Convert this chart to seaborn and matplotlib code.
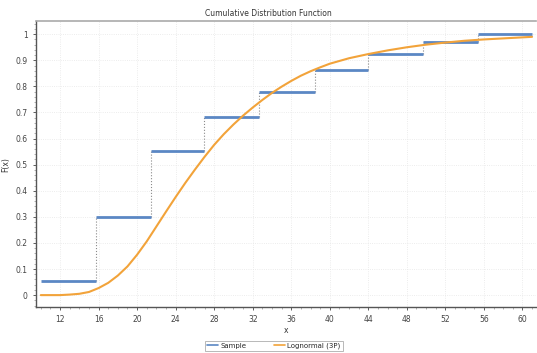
import numpy as np
import pandas as pd
import matplotlib
matplotlib.use('Agg')
import matplotlib.pyplot as plt
from matplotlib.lines import Line2D
from matplotlib.ticker import MultipleLocator
import seaborn as sns

# empirical CDF steps (bin edges and heights)
step_edges = [10.0, 15.7, 21.4, 26.95, 32.65, 38.5, 44.0, 49.65, 55.35, 61.0]
step_heights = [0.055, 0.30, 0.551, 0.681, 0.778, 0.863, 0.924, 0.971, 1.0]

# fitted Lognormal (3P) CDF
curve_x = [10, 11, 12, 13, 14, 15, 16, 17, 18, 19, 20, 21, 22, 23, 24, 25, 26,
           27, 28, 29, 30, 31, 32, 33, 34, 35, 36, 37, 38, 39, 40, 42, 44, 46,
           48, 50, 52, 54, 56, 58, 60, 61]
curve_y = [0.0, 0.0, 0.0, 0.002, 0.005, 0.012, 0.027, 0.047, 0.075, 0.11,
           0.155, 0.206, 0.263, 0.32, 0.376, 0.43, 0.481, 0.53, 0.576, 0.617,
           0.654, 0.688, 0.719, 0.748, 0.775, 0.799, 0.821, 0.841, 0.858, 0.873,
           0.887, 0.908, 0.924, 0.938, 0.95, 0.96, 0.968, 0.975, 0.98, 0.984,
           0.988, 0.99]

x_ticks = [12, 16, 20, 24, 28, 32, 36, 40, 44, 48, 52, 56, 60]
y_ticks = [0, 0.1, 0.2, 0.3, 0.4, 0.5, 0.6, 0.7, 0.8, 0.9, 1]
y_labels = ['0', '0.1', '0.2', '0.3', '0.4', '0.5', '0.6', '0.7', '0.8', '0.9', '1']

blue = '#5b87c4'
orange = '#f2a33a'

sns.set_style('white')
plt.rcParams['font.family'] = ['DejaVu Sans']

fig = plt.figure(figsize=(5.37, 3.53), dpi=100)
ax = fig.add_axes([0.067, 0.13, 0.931, 0.81])

ax.grid(True, color='#e6e6e6', linestyle=':', linewidth=0.6)

# dotted risers between steps
ax.vlines(step_edges[1:-1], step_heights[:-1], step_heights[1:],
          colors='#8a8a8a', linestyles=':', linewidth=0.8, zorder=2)
ax.hlines(step_heights, step_edges[:-1], step_edges[1:], colors=blue,
          linewidth=2.0, zorder=3)

df = pd.DataFrame({'x': curve_x, 'F': curve_y})
sns.lineplot(data=df, x='x', y='F', ax=ax, color=orange, linewidth=1.5, zorder=4)

ax.set_xlim(9.5, 61.4)
ax.set_ylim(-0.046, 1.05)
ax.set_xticks(x_ticks)
ax.set_yticks(y_ticks)
ax.set_yticklabels(y_labels)
ax.xaxis.set_minor_locator(MultipleLocator(1))
ax.yaxis.set_minor_locator(MultipleLocator(0.02))
ax.tick_params(axis='both', which='major', labelsize=5.5, colors='#444444',
               length=2.5, width=0.6, direction='out', bottom=True, left=True)
ax.tick_params(axis='both', which='minor', length=1.5, width=0.4,
               colors='#777777', bottom=True, left=True)
ax.set_xlabel('x', fontsize=5.5, color='#333333', labelpad=1)
ax.set_ylabel('F(x)', fontsize=5.5, color='#333333', labelpad=4)

for s in ['left', 'bottom']:
    ax.spines[s].set_color('#555555')
    ax.spines[s].set_linewidth(1.0)
ax.spines['top'].set_color('#aaaaaa')
ax.spines['top'].set_linewidth(1.2)
ax.spines['right'].set_visible(False)

fig.text(0.5, 0.963, 'Cumulative Distribution Function', ha='center',
         va='center', fontsize=5.5, color='#333333')

handles = [Line2D([], [], color=blue, linewidth=1.2),
           Line2D([], [], color=orange, linewidth=1.2)]
leg = fig.legend(handles, ['Sample', 'Lognormal (3P)'], loc='center',
                 bbox_to_anchor=(0.51, 0.02), ncol=2, fontsize=5,
                 frameon=True, fancybox=False, handlelength=1.5,
                 columnspacing=4, borderpad=0.3, handletextpad=0.4)
leg.get_frame().set_edgecolor('#999999')
leg.get_frame().set_linewidth(0.6)

fig.savefig('out.png', dpi=100)
